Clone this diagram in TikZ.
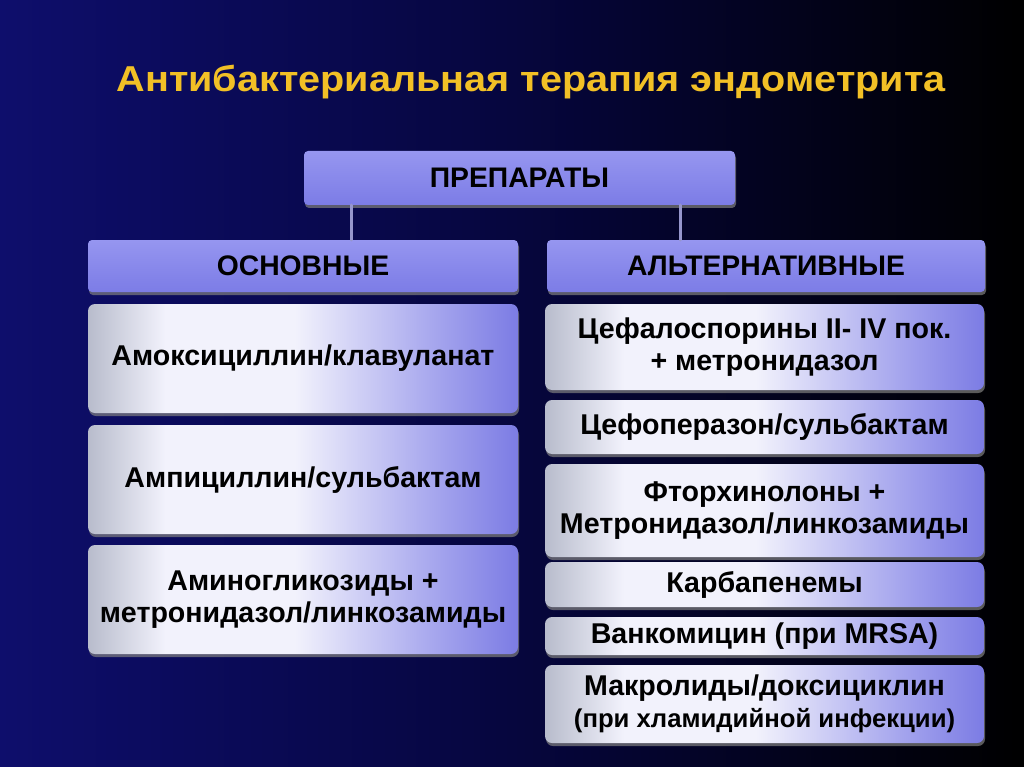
\documentclass[tikz,border=0pt]{standalone}
\usepackage{fontspec}
\setmainfont{Liberation Sans}
\usetikzlibrary{shadows}
\definecolor{bgblue}{RGB}{14,14,108}
\definecolor{bgmid}{RGB}{6,6,62}
\definecolor{titlegold}{RGB}{242,192,38}
\definecolor{headtop}{RGB}{150,150,240}
\definecolor{headbot}{RGB}{124,124,230}
\definecolor{boxgray}{RGB}{184,188,204}
\definecolor{boxwhite}{RGB}{242,242,252}
\definecolor{boxlav}{RGB}{158,158,236}
\definecolor{boxlavd}{RGB}{124,124,228}
\definecolor{linkgray}{RGB}{150,150,205}
\pgfdeclarehorizontalshading{bgshade}{100bp}{color(0bp)=(bgblue); color(25bp)=(bgblue); color(50bp)=(bgmid); color(75bp)=(black); color(100bp)=(black)}
\pgfdeclarehorizontalshading{drugshade}{100bp}{color(0bp)=(boxgray); color(25bp)=(boxgray); color(34bp)=(boxwhite); color(49bp)=(boxwhite); color(67bp)=(boxlav); color(75bp)=(boxlavd); color(100bp)=(boxlavd)}
\begin{document}
\begin{tikzpicture}[x=1pt,y=-1pt,line join=round,line cap=round,
  headbox/.style={rectangle,rounded corners=4pt,top color=headtop,bottom color=headbot,
    anchor=north west,inner sep=0pt,outer sep=0pt,
    font=\fontsize{28.3}{32}\selectfont\bfseries,
    drop shadow={shadow xshift=1pt,shadow yshift=-3pt,opacity=.7}},
  drugbox/.style={rectangle,rounded corners=7pt,shading=drugshade,align=center,
    anchor=north west,inner sep=0pt,outer sep=0pt,
    font=\fontsize{28.6}{32.5}\selectfont\bfseries,
    drop shadow={shadow xshift=1pt,shadow yshift=-3pt,opacity=.7}},
  link/.style={linkgray,line width=3pt}]
	% фон
	\shade[shading=bgshade] (0,0) rectangle (1024,767);
	\useasboundingbox (0,0) rectangle (1024,767);
	% заголовок
	\node[titlegold,font=\fontsize{36}{40}\selectfont\bfseries] (title) at (531,82) {\scalebox{1.1}[1]{Антибактериальная терапия эндометрита}};
	% уровни схемы
	\node[headbox,minimum width=431pt,minimum height=54pt] (prep) at (304,151) {ПРЕПАРАТЫ};
	\node[headbox,minimum width=430pt,minimum height=52pt] (osn) at (88,240) {ОСНОВНЫЕ};
	\node[headbox,minimum width=438pt,minimum height=52pt] (alt) at (547,240) {АЛЬТЕРНАТИВНЫЕ};
	\draw[link] ([xshift=47pt]prep.south west) -- ([xshift=47pt]prep.south west |- osn.north);
	\draw[link] ([xshift=-55pt]prep.south east) -- ([xshift=-55pt]prep.south east |- alt.north);
	% основные
	\node[drugbox,minimum width=430pt,minimum height=109pt] (amox) at (88,304) {Амоксициллин/клавуланат};
	\node[drugbox,minimum width=430pt,minimum height=109pt] (ampi) at (88,425) {Ампициллин/сульбактам};
	\node[drugbox,minimum width=430pt,minimum height=109pt] (amino) at (88,545) {Аминогликозиды +\\метронидазол/линкозамиды};
	% альтернативные
	\node[drugbox,minimum width=439pt,minimum height=86pt] (cefa) at (545,304) {Цефалоспорины II- IV пок.\\+ метронидазол};
	\node[drugbox,minimum width=439pt,minimum height=54pt] (cefo) at (545,400) {Цефоперазон/сульбактам};
	\node[drugbox,minimum width=439pt,minimum height=93pt] (ftor) at (545,464) {Фторхинолоны +\\Метронидазол/линкозамиды};
	\node[drugbox,minimum width=439pt,minimum height=45pt] (karb) at (545,562) {Карбапенемы};
	\node[drugbox,minimum width=439pt,minimum height=38pt] (vank) at (545,617) {Ванкомицин (при MRSA)};
	\node[drugbox,minimum width=439pt,minimum height=78pt] (makr) at (545,665) {Макролиды/доксициклин\\{\fontsize{25.7}{30}\selectfont(при хламидийной инфекции)}};
\end{tikzpicture}
\end{document}
